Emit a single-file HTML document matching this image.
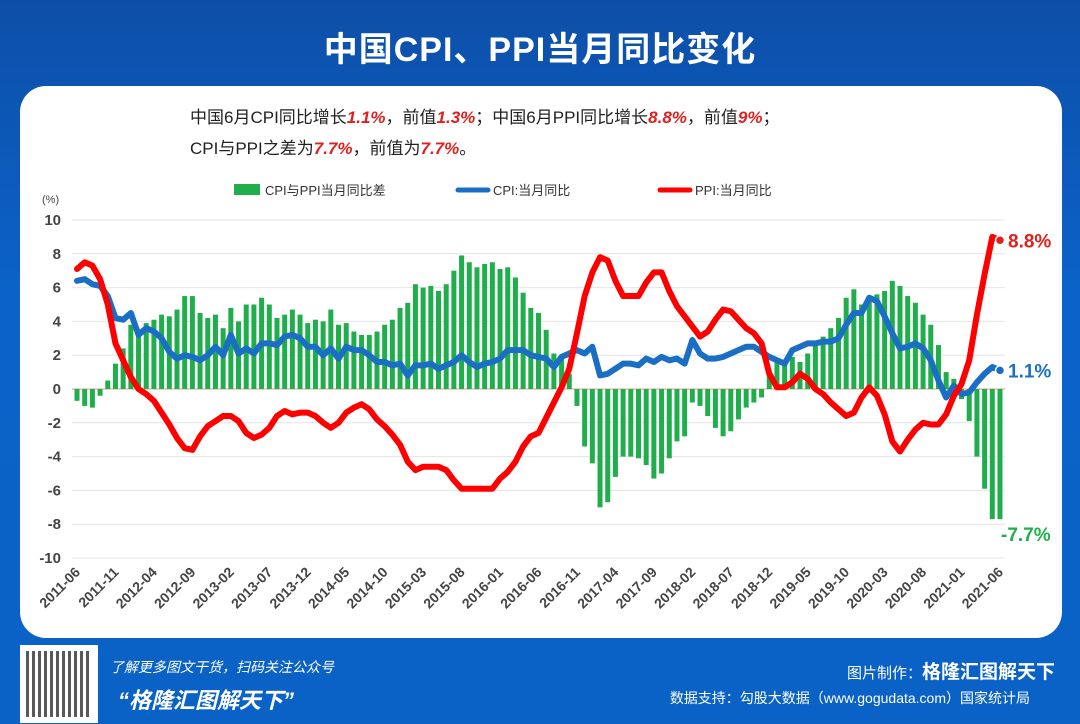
<!DOCTYPE html>
<html><head><meta charset="utf-8">
<style>
body{margin:0;width:1080px;height:724px;overflow:hidden;background:#0a5fc4;font-family:"Liberation Sans","Noto Sans CJK SC",sans-serif;}
#bg{position:absolute;left:0;top:0;width:1080px;height:724px;background:linear-gradient(180deg,#0d4fa8 0%,#0b62c8 40%,#0a62c6 100%);}
#title{position:absolute;left:0;top:22px;width:1080px;text-align:center;color:#fff;font-size:34px;font-weight:bold;letter-spacing:1px;}
#panel{position:absolute;left:20px;top:86px;width:1042px;height:552px;background:#fff;border-radius:26px;}
svg{position:absolute;left:0;top:0}
.foot{position:absolute;color:#fff;}
</style></head><body>
<div id="bg"></div>
<div id="title">中国CPI、PPI当月同比变化</div>
<div id="panel"></div>
<svg id="chart" width="1080" height="724"></svg>
<div class="foot" style="left:20px;top:645px;width:78px;height:78px;background:#fff;">
<div style="position:absolute;left:6px;top:6px;width:66px;height:66px;background:repeating-linear-gradient(90deg,#222 0 3px,#fff 3px 6px),#222;opacity:.75"></div></div>
<div class="foot" style="left:110px;top:657px;font-size:14px;font-style:italic;">了解更多图文干货，扫码关注公众号</div>
<div class="foot" style="left:118px;top:683px;font-size:22px;font-weight:bold;font-style:italic;">“格隆汇图解天下”</div>
<div class="foot" style="right:25px;top:657px;font-size:15px;">图片制作：<b style="font-size:19px">格隆汇图解天下</b></div>
<div class="foot" style="right:50px;top:688px;font-size:14px;">数据支持：勾股大数据（www.gogudata.com）国家统计局</div>
<script>
const NS='http://www.w3.org/2000/svg';
const svg=document.getElementById('chart');
const cpi=[6.4,6.5,6.2,6.1,5.5,4.2,4.1,
4.5,3.2,3.6,3.4,3.0,2.2,1.8,2.0,1.9,1.7,2.0,2.5,
2.0,3.2,2.1,2.4,2.1,2.7,2.7,2.6,3.1,3.2,3.0,2.5,
2.5,2.0,2.4,1.8,2.5,2.3,2.3,2.0,1.6,1.6,1.4,1.5,
0.8,1.4,1.4,1.5,1.2,1.4,1.6,2.0,1.6,1.3,1.5,1.6,
1.8,2.3,2.3,2.3,2.0,1.9,1.8,1.3,1.9,2.1,2.3,2.1,
2.5,0.8,0.9,1.2,1.5,1.5,1.4,1.8,1.6,1.9,1.7,1.8,
1.5,2.9,2.1,1.8,1.8,1.9,2.1,2.3,2.5,2.5,2.2,1.9,
1.7,1.5,2.3,2.5,2.7,2.7,2.8,2.8,3.0,3.8,4.5,4.5,
5.4,5.2,4.3,3.3,2.4,2.5,2.7,2.4,1.7,0.5,-0.5,0.2,
-0.3,-0.2,0.4,0.9,1.3,1.1];
const ppi=[7.1,7.5,7.3,6.5,5.0,2.7,1.7,
0.7,0.0,-0.3,-0.7,-1.4,-2.1,-2.9,-3.5,-3.6,-2.8,-2.2,-1.9,
-1.6,-1.6,-1.9,-2.6,-2.9,-2.7,-2.3,-1.6,-1.3,-1.5,-1.4,-1.4,
-1.6,-2.0,-2.3,-2.0,-1.4,-1.1,-0.9,-1.2,-1.8,-2.2,-2.7,-3.3,
-4.3,-4.8,-4.6,-4.6,-4.6,-4.8,-5.4,-5.9,-5.9,-5.9,-5.9,-5.9,
-5.3,-4.9,-4.3,-3.4,-2.8,-2.6,-1.7,-0.8,0.1,1.2,3.3,5.5,
6.9,7.8,7.6,6.4,5.5,5.5,5.5,6.3,6.9,6.9,5.8,4.9,
4.3,3.7,3.1,3.4,4.1,4.7,4.6,4.1,3.6,3.3,2.7,0.9,
0.1,0.1,0.4,0.9,0.6,0.0,-0.3,-0.8,-1.2,-1.6,-1.4,-0.5,
0.1,-0.4,-1.5,-3.1,-3.7,-3.0,-2.4,-2.0,-2.1,-2.1,-1.5,-0.4,
0.3,1.7,4.4,6.8,9.0,8.8];
const diff=[-0.7,-1.0,-1.1,-0.4,0.5,1.5,2.4,
3.8,3.2,3.9,4.1,4.4,4.3,4.7,5.5,5.5,4.5,4.2,4.4,
3.6,4.8,4.0,5.0,5.0,5.4,5.0,4.2,4.4,4.7,4.4,3.9,
4.1,4.0,4.7,3.8,3.9,3.4,3.2,3.2,3.4,3.8,4.1,4.8,
5.1,6.2,6.0,6.1,5.8,6.2,7.0,7.9,7.5,7.2,7.4,7.5,
7.1,7.2,6.6,5.7,4.8,4.5,3.5,2.1,1.8,0.9,-1.0,-3.4,
-4.4,-7.0,-6.7,-5.2,-4.0,-4.0,-4.1,-4.5,-5.3,-5.0,-4.1,-3.1,
-2.8,-0.8,-1.0,-1.6,-2.3,-2.8,-2.5,-1.8,-1.1,-0.8,-0.5,1.0,
1.6,1.4,1.9,1.6,2.1,2.7,3.1,3.6,4.2,5.4,5.9,5.0,
5.3,5.6,5.8,6.4,6.1,5.5,5.1,4.4,3.8,2.6,1.0,0.6,
-0.6,-1.9,-4.0,-5.9,-7.7,-7.7];
const yTicks=[10,8,6,4,2,0,-2,-4,-6,-8,-10];
const xLabels=['2011-06','2011-11','2012-04','2012-09','2013-02','2013-07','2013-12','2014-05','2014-10','2015-03','2015-08','2016-01','2016-06','2016-11','2017-04','2017-09','2018-02','2018-07','2018-12','2019-05','2019-10','2020-03','2020-08','2021-01','2021-06'];
const N=cpi.length;
const X0=77,X1=1000,Y0=389,K=16.9;
const xs=i=>X0+(X1-X0)*i/(N-1);
const ys=v=>Y0-v*K;
function el(t,a,txt){const e=document.createElementNS(NS,t);for(const k in a)e.setAttribute(k,a[k]);if(txt!=null)e.textContent=txt;svg.appendChild(e);return e;}
const h1=el('text',{x:190,y:123,'font-size':17,fill:'#222'});


h1.innerHTML='中国6月CPI同比增长<tspan fill="#e0201c" font-weight="bold" font-style="italic">1.1%</tspan>，前值<tspan fill="#e0201c" font-weight="bold" font-style="italic">1.3%</tspan>；中国6月PPI同比增长<tspan fill="#e0201c" font-weight="bold" font-style="italic">8.8%</tspan>，前值<tspan fill="#e0201c" font-weight="bold" font-style="italic">9%</tspan>；';
const h2=el('text',{x:190,y:154,'font-size':17,fill:'#222'});


h2.innerHTML='CPI与PPI之差为<tspan fill="#e0201c" font-weight="bold" font-style="italic">7.7%</tspan>，前值为<tspan fill="#e0201c" font-weight="bold" font-style="italic">7.7%</tspan>。';
const lg=[['bar','#1fae4b','CPI与PPI当月同比差',234],['line','#1a6fc4','CPI:当月同比',458],['line','#f00','PPI:当月同比',660]];
lg.forEach(l=>{
 const m=l[0]=='bar'?el('rect',{x:l[3],y:184,width:26,height:11,fill:l[1]}):el('line',{x1:l[3],x2:l[3]+30,y1:190,y2:190,stroke:l[1],'stroke-width':5,'stroke-linecap':'round'});
 
 
 const t=el('text',{x:l[3]+(l[0]=='bar'?31:35),y:195,'font-size':13,fill:'#333'},l[2]);
 
 
});
const u=el('text',{x:42,y:203,'font-size':11,fill:'#444'},'(%)');


yTicks.forEach(v=>{
 const g=el('line',{x1:72,x2:1005,y1:ys(v),y2:ys(v),stroke:v==0?'#d9a08a':'#e4e4e4','stroke-width':1});
 
 
 const t=el('text',{x:61,y:ys(v)+5,'font-size':15,'font-weight':'bold',fill:'#444','text-anchor':'end'},v);
 
 
});
diff.forEach((v,i)=>{
 const b=el('rect',{x:xs(i)-2.5,y:Math.min(ys(v),Y0),width:5,height:Math.abs(v*K),fill:'#1fae4b'});
 
 
});
function line(arr,col,name){
 const p=el('polyline',{points:arr.map((v,i)=>xs(i)+','+ys(v)).join(' '),fill:'none',stroke:col,'stroke-width':6,'stroke-linejoin':'round','stroke-linecap':'round'});
 
 
}
line(cpi,'#1a6fc4','cpi-line');
line(ppi,'#f00','ppi-line');
[[ppi,'#e0201c','ppi-end-label'],[cpi,'#1a6fc4','cpi-end-label']].forEach(a=>{
 const v=a[0][N-1];
 const c=el('circle',{cx:xs(N-1),cy:ys(v),r:4.5,fill:a[1],stroke:'#fff','stroke-width':1.5});
 
 
 const t=el('text',{x:xs(N-1)+8,y:ys(v)+7,'font-size':19,'font-weight':'bold',fill:a[1]},v.toFixed(1)+'%');
 
 
});
const dv=diff[N-1];
const dt=el('text',{x:xs(N-1)+1,y:ys(dv)+22,'font-size':19,'font-weight':'bold',fill:'#1fae4b'},dv.toFixed(1)+'%');


xLabels.forEach((s,k)=>{
 const x=xs(k*5);
 const t=el('text',{x:x+4,y:573,'font-size':14,'font-weight':'bold',fill:'#444','text-anchor':'end',transform:`rotate(-45 ${x+4} 573)`},s);
 
 
});
</script>
</body></html>
